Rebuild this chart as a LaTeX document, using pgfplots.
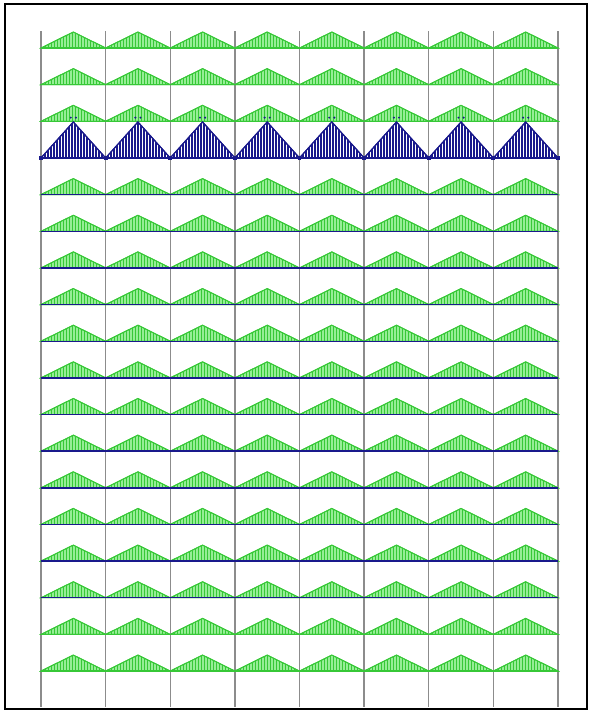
\documentclass[border=0pt]{standalone}
\usepackage{pgfplots}
\pgfplotsset{compat=1.18}
\usepackage{pgfplotstable}
\usetikzlibrary{patterns.meta}
\definecolor{lgreen}{RGB}{150,238,150}
\definecolor{mgreen}{RGB}{55,200,55}
\definecolor{navy}{RGB}{25,25,140}
\definecolor{colgray}{RGB}{140,140,140}
\pgfplotstableread{
x h
0 0
0.5 1
1 0
1.5 1
2 0
2.5 1
3 0
3.5 1
4 0
4.5 1
5 0
5.5 1
6 0
6.5 1
7 0
7.5 1
8 0
}\profile
\begin{document}
\begin{tikzpicture}
\begin{axis}[scale only axis, width=592pt, height=713pt,
  xmin=-0.6344, xmax=8.5261, ymin=-1.1446, ymax=18.31,
  hide axis, clip=false]
\path (rel axis cs:0,0) rectangle (rel axis cs:1,1);
% columns
\pgfplotsinvokeforeach{0,1,2,3,4,5,6,7,8}{
  \addplot[colgray, line width=1.3pt] coordinates {(#1,-0.98)(#1,17.46)};
}
% green load rows
\pgfplotsinvokeforeach{17,16,15,13,12,11,10,9,8,7,6,5,4,3,2,1,0}{
  \addplot[mgreen, line width=0.9pt, fill=lgreen,
    postaction={pattern={Lines[angle=90,distance=3pt,line width=1pt]}, pattern color=mgreen}]
    table[x=x, y expr={#1+0.4366*\thisrow{h}}] {\profile} -- cycle;
}
% baselines
\pgfplotsinvokeforeach{17,16,15,1,0}{
  \addplot[mgreen, line width=1.5pt] coordinates {(0,#1)(8,#1)};
}
\pgfplotsinvokeforeach{13,12,11,10,9,8,7,6,5,4,3,2}{
  \addplot[navy, line width=1.4pt] coordinates {(0,#1)(8,#1)};
}
% blue load row
\addplot[navy, line width=1.1pt, fill=white,
  postaction={pattern={Lines[angle=90,distance=3pt,line width=1.2pt]}, pattern color=navy}]
  table[x=x, y expr={14+0.982*\thisrow{h}}] {\profile} -- cycle;
\addplot[navy, line width=1.4pt, mark=square*, mark size=1.2pt] coordinates {(0,14)(1,14)(2,14)(3,14)(4,14)(5,14)(6,14)(7,14)(8,14)};
\addplot[only marks, navy, mark=*, mark size=0.8pt] coordinates {
(0.46,15.1)(0.54,15.1)(1.46,15.1)(1.54,15.1)(2.46,15.1)(2.54,15.1)(3.46,15.1)(3.54,15.1)
(4.46,15.1)(4.54,15.1)(5.46,15.1)(5.54,15.1)(6.46,15.1)(6.54,15.1)(7.46,15.1)(7.54,15.1)};
\draw[black, line width=2pt] (rel axis cs:0.00845,0.00561) rectangle (rel axis cs:0.99155,0.99439);
\end{axis}
\end{tikzpicture}
\end{document}
